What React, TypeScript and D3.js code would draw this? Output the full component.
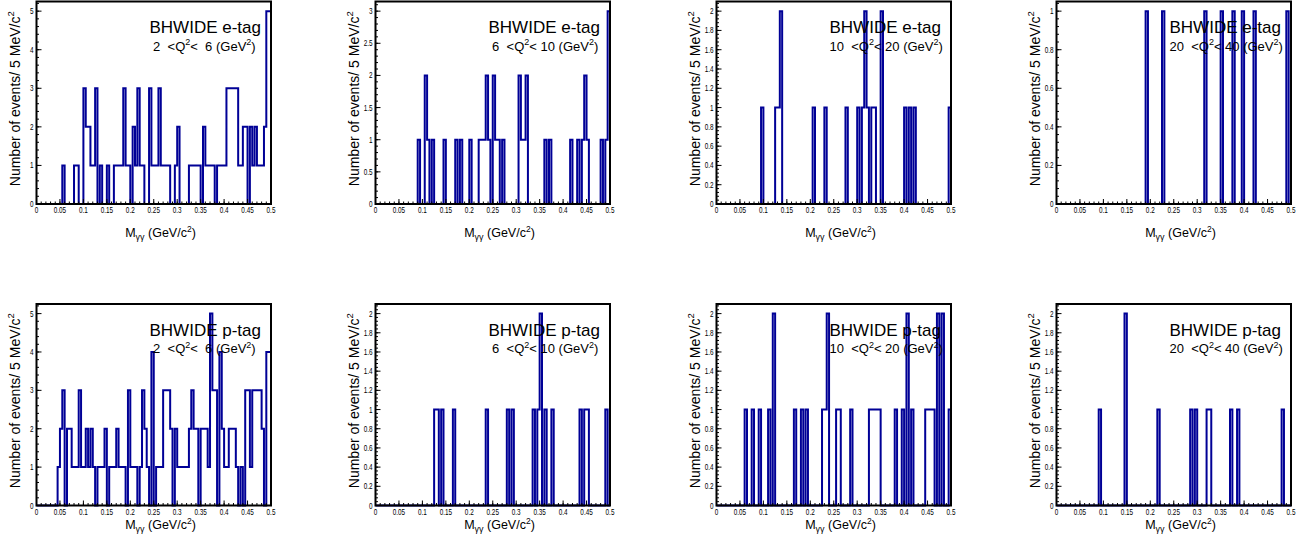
import React from "react";
import * as d3 from "d3";

// ---------------- data ----------------
const X_MIN = 0;
const X_MAX = 0.5;
const N_BINS = 100;

const xTickLabels = ["0", "0.05", "0.1", "0.15", "0.2", "0.25", "0.3", "0.35", "0.4", "0.45", "0.5"];
const tagNames = ["e-tag", "p-tag"];
const q2Low = [2, 6, 10, 20];
const q2High = [6, 10, 20, 40];

// counts per 5 MeV bin, 100 bins from 0 to 0.5 GeV/c^2
const eTag_2_6 = [
  0, 0, 0, 0, 0, 0, 0, 0, 0, 0,
  0, 1, 0, 0, 0, 0, 1, 1, 0, 0,
  3, 2, 2, 1, 1, 3, 0, 1, 0, 0,
  1, 0, 0, 1, 1, 1, 1, 3, 1, 1,
  0, 2, 1, 3, 1, 1, 0, 0, 3, 1,
  1, 1, 3, 1, 1, 1, 1, 0, 0, 1,
  2, 0, 0, 0, 0, 1, 1, 1, 1, 1,
  0, 2, 1, 1, 1, 1, 0, 1, 1, 1,
  1, 3, 3, 3, 3, 3, 1, 1, 2, 2,
  0, 2, 1, 2, 1, 1, 1, 2, 5, 5,
];
const eTag_6_10 = [
  0, 0, 0, 0, 0, 0, 0, 0, 0, 0,
  0, 0, 0, 0, 0, 0, 0, 0, 1, 0,
  0, 2, 1, 0, 1, 0, 0, 0, 0, 1,
  0, 0, 0, 0, 1, 0, 1, 0, 0, 0,
  1, 0, 0, 0, 1, 1, 1, 2, 1, 0,
  2, 1, 1, 0, 1, 0, 0, 0, 0, 0,
  0, 2, 1, 1, 2, 0, 0, 0, 0, 0,
  0, 0, 1, 0, 1, 0, 0, 0, 0, 0,
  0, 0, 0, 1, 0, 0, 1, 0, 1, 2,
  1, 0, 0, 0, 0, 0, 1, 0, 1, 3,
];
const eTag_10_20 = [
  0, 0, 0, 0, 0, 0, 0, 0, 0, 0,
  0, 0, 0, 0, 0, 0, 0, 0, 0, 1,
  0, 0, 0, 0, 0, 1, 1, 2, 0, 0,
  0, 0, 0, 0, 0, 0, 0, 0, 0, 0,
  0, 1, 0, 0, 0, 0, 1, 0, 0, 0,
  0, 0, 0, 0, 0, 1, 0, 0, 0, 0,
  1, 0, 1, 2, 1, 0, 1, 1, 0, 0,
  2, 0, 0, 0, 0, 0, 0, 0, 0, 0,
  1, 0, 1, 0, 1, 0, 0, 0, 0, 0,
  0, 0, 0, 0, 0, 0, 0, 0, 0, 1,
];
const eTag_20_40 = [
  0, 0, 0, 0, 0, 0, 0, 0, 0, 0,
  0, 0, 0, 0, 0, 0, 0, 0, 0, 0,
  0, 0, 0, 0, 0, 0, 0, 0, 0, 0,
  0, 0, 0, 0, 0, 0, 0, 0, 1, 0,
  0, 0, 0, 0, 0, 1, 0, 0, 0, 0,
  0, 0, 0, 0, 0, 0, 0, 0, 0, 0,
  0, 0, 0, 1, 0, 0, 0, 0, 0, 0,
  1, 0, 0, 0, 0, 1, 0, 0, 0, 1,
  0, 0, 0, 0, 1, 0, 0, 0, 0, 0,
  0, 0, 0, 0, 0, 0, 0, 0, 1, 0,
];
const pTag_2_6 = [
  0, 0, 0, 0, 0, 0, 0, 0, 0, 1,
  2, 3, 0, 2, 2, 1, 1, 1, 3, 1,
  1, 2, 1, 2, 1, 0, 1, 1, 1, 2,
  0, 1, 1, 1, 2, 1, 1, 1, 0, 3,
  1, 1, 1, 0, 1, 3, 2, 1, 0, 4,
  0, 1, 1, 1, 3, 3, 3, 2, 0, 2,
  1, 1, 1, 1, 1, 2, 3, 2, 2, 0,
  2, 2, 2, 1, 5, 3, 3, 0, 4, 2,
  1, 1, 2, 2, 2, 1, 0, 1, 0, 3,
  3, 1, 3, 3, 3, 3, 2, 0, 4, 4,
];
const pTag_6_10 = [
  0, 0, 0, 0, 0, 0, 0, 0, 0, 0,
  0, 0, 0, 0, 0, 0, 0, 0, 0, 0,
  0, 0, 0, 0, 0, 1, 1, 0, 1, 0,
  0, 0, 0, 1, 0, 0, 0, 0, 0, 0,
  0, 0, 0, 0, 0, 0, 0, 1, 0, 0,
  0, 0, 0, 0, 0, 0, 1, 0, 1, 0,
  0, 0, 0, 0, 0, 0, 0, 1, 0, 1,
  2, 0, 1, 0, 0, 1, 0, 0, 0, 0,
  0, 0, 0, 0, 0, 0, 0, 1, 0, 1,
  1, 0, 0, 0, 0, 0, 0, 0, 1, 0,
];
const pTag_10_20 = [
  0, 0, 0, 0, 0, 0, 0, 0, 0, 0,
  0, 0, 1, 0, 0, 1, 0, 0, 1, 0,
  0, 0, 1, 0, 2, 0, 0, 0, 0, 0,
  0, 0, 0, 1, 0, 0, 1, 0, 1, 0,
  0, 0, 0, 0, 0, 1, 1, 2, 0, 0,
  0, 1, 1, 0, 0, 0, 0, 1, 0, 0,
  0, 0, 0, 0, 0, 1, 1, 1, 1, 1,
  0, 0, 0, 0, 0, 0, 1, 0, 0, 1,
  0, 2, 0, 1, 0, 0, 0, 0, 0, 1,
  1, 1, 1, 0, 2, 0, 2, 0, 0, 1,
];
const pTag_20_40 = [
  0, 0, 0, 0, 0, 0, 0, 0, 0, 0,
  0, 0, 0, 0, 0, 0, 0, 0, 1, 0,
  0, 0, 0, 0, 0, 0, 0, 0, 0, 2,
  0, 0, 0, 0, 0, 0, 0, 0, 0, 0,
  0, 0, 0, 1, 0, 0, 0, 0, 0, 0,
  0, 0, 0, 0, 0, 0, 0, 1, 0, 1,
  0, 0, 0, 0, 1, 1, 0, 0, 0, 0,
  0, 0, 0, 0, 1, 0, 0, 1, 0, 0,
  0, 0, 0, 0, 0, 0, 0, 0, 0, 0,
  0, 0, 0, 0, 0, 0, 1, 0, 0, 0,
];

const histRows = [
  [eTag_2_6, eTag_6_10, eTag_10_20, eTag_20_40],
  [pTag_2_6, pTag_6_10, pTag_10_20, pTag_20_40],
];

// ---------------- layout ----------------
const W = 1313;
const H = 553;
const colLeft = [36.5, 375.5, 716.5, 1056.5];
const plotW = 234.5;
const rowTop = [1.5, 304];
const rowBottom = [204, 505.5];
const xTitleBaseline = [237, 529];
const FONT = "'Liberation Sans', Arial, Helvetica, sans-serif";
const HIST_COLOR = "#000096";

const pad2 = (n: number) => (n < 10 ? " " + n : String(n));
const fmtNum = (v: number) => String(+v.toFixed(3));

function Panel({ counts, tag, lo, hi, left, top, bottom, titleY }: any) {
  const x = d3.scaleLinear().domain([X_MIN, X_MAX]).range([left, left + plotW]);
  const yMax = (d3.max(counts as number[]) || 1) * 1.05;
  const y = d3.scaleLinear().domain([0, yMax]).range([bottom, top]);
  const binW = (X_MAX - X_MIN) / N_BINS;

  const pts: [number, number][] = [[X_MIN, 0]];
  (counts as number[]).forEach((c, i) => {
    pts.push([X_MIN + i * binW, c]);
    pts.push([X_MIN + (i + 1) * binW, c]);
  });
  pts.push([X_MAX, 0]);
  const path = d3
    .line<[number, number]>()
    .x((d) => x(d[0]))
    .y((d) => y(d[1]))(pts) as string;

  const major = yMax > 4 ? 1 : yMax > 2.5 ? 0.5 : 0.2;
  const minor = major / 5;
  const yMajor = d3.range(0, Math.floor(yMax / major + 1e-6) + 1).map((i) => i * major);
  const yMinor = d3.range(0, Math.floor(yMax / minor + 1e-6) + 1).map((i) => i * minor);
  const xMajor = xTickLabels.map((s) => +s);
  const xMinor = d3.range(0, 51).map((i) => i * 0.01);

  const midY = (top + bottom) / 2;

  return (
    <g fontFamily={FONT}>
      <path d={path} fill="none" stroke={HIST_COLOR} strokeWidth={2} strokeLinejoin="miter" />
      {/* text */}
      <text x={left + 113} y={top + 31.5} fontSize={17} fill="#000">
        {"BHWIDE " + tag}
      </text>
      <text x={left + 113} y={top + 49} fontSize={13} fill="#000" style={{ whiteSpace: "pre" }}>
        <tspan>{pad2(lo) + "  <Q"}</tspan>
        <tspan fontSize={9} dy={-5.5}>2</tspan>
        <tspan dy={5.5}>{"< " + pad2(hi) + " (GeV"}</tspan>
        <tspan fontSize={9} dy={-5.5}>2</tspan>
        <tspan dy={5.5}>)</tspan>
      </text>
      {/* frame */}
      <rect x={left} y={top} width={plotW} height={bottom - top} fill="none" stroke="#000" strokeWidth={2} />
      {/* y ticks */}
      {yMinor.map((v, i) => (
        <line key={"ym" + i} x1={left} x2={left + 2.5} y1={y(v)} y2={y(v)} stroke="#000" strokeWidth={1} />
      ))}
      {yMajor.map((v, i) => (
        <line key={"yM" + i} x1={left} x2={left + 5} y1={y(v)} y2={y(v)} stroke="#000" strokeWidth={1} />
      ))}
      {yMajor.map((v, i) => (
        <text
          key={"yl" + i}
          transform={`translate(${left - 3},${y(v) + 3}) scale(0.75,1)`}
          textAnchor="end"
          fontSize={8.5}
          fill="#000"
        >
          {fmtNum(v)}
        </text>
      ))}
      {/* x ticks */}
      {xMinor.map((v, i) => (
        <line key={"xm" + i} x1={x(v)} x2={x(v)} y1={bottom} y2={bottom - 2.5} stroke="#000" strokeWidth={1} />
      ))}
      {xMajor.map((v, i) => (
        <line key={"xM" + i} x1={x(v)} x2={x(v)} y1={bottom} y2={bottom - 5} stroke="#000" strokeWidth={1} />
      ))}
      {xTickLabels.map((s, i) => (
        <text
          key={"xl" + i}
          transform={`translate(${x(+s)},${bottom + 9}) scale(0.75,1)`}
          textAnchor="middle"
          fontSize={8.5}
          fill="#000"
        >
          {s}
        </text>
      ))}
      {/* axis titles */}
      <text
        transform={`translate(${left - 17},${midY - 4}) rotate(-90)`}
        textAnchor="middle"
        fontSize={14}
        fill="#000"
      >
        <tspan>Number of events/ 5 MeV/c</tspan>
        <tspan fontSize={9.5} dy={-6}>2</tspan>
      </text>
      <text x={left + 124} y={titleY} textAnchor="middle" fontSize={12.5} fill="#000">
        <tspan>M</tspan>
        <tspan fontSize={9} dy={3}>γγ</tspan>
        <tspan dy={-3}> (GeV/c</tspan>
        <tspan fontSize={8.5} dy={-5}>2</tspan>
        <tspan dy={5}>)</tspan>
      </text>
    </g>
  );
}

export default function App() {
  return (
    <svg
      width={W}
      height={H}
      viewBox={`0 0 ${W} ${H}`}
      style={{ position: "absolute", left: 0, top: 0, display: "block", background: "#fff" }}
    >
      <rect x={0} y={0} width={W} height={H} fill="#fff" />
      {histRows.map((row, r) =>
        row.map((counts, c) => (
          <Panel
            key={r + "-" + c}
            counts={counts}
            tag={tagNames[r]}
            lo={q2Low[c]}
            hi={q2High[c]}
            left={colLeft[c]}
            top={rowTop[r]}
            bottom={rowBottom[r]}
            titleY={xTitleBaseline[r]}
          />
        ))
      )}
    </svg>
  );
}
